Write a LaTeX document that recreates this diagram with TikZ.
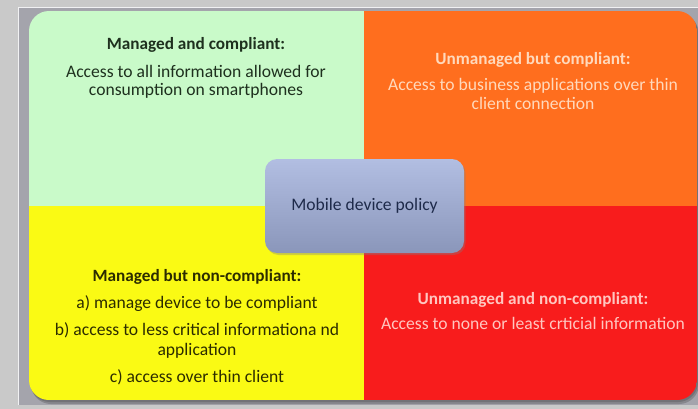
\documentclass[tikz,border=0pt]{standalone}
\usepackage{fontspec}
\setmainfont{Carlito}
\usetikzlibrary{shadows}

\definecolor{bgray}{HTML}{C9C9C9}
\definecolor{panel}{HTML}{A4A4AC}
\definecolor{qgreen}{HTML}{C9FAC9}
\definecolor{qorange}{HTML}{FF6E1E}
\definecolor{qyellow}{HTML}{FAFA14}
\definecolor{qred}{HTML}{F81C1C}
\definecolor{boxtop}{HTML}{B2BEE2}
\definecolor{boxbot}{HTML}{8A96BA}
\definecolor{boxtext}{HTML}{1E2A4A}
\definecolor{gtext}{HTML}{1E301E}
\definecolor{ytext}{HTML}{2C2C00}
\definecolor{otext}{HTML}{FFD9BC}
\definecolor{rtext}{HTML}{FFC6C0}

\tikzset{
  line/.style={inner sep=0pt, anchor=mid, font=\fontsize{17.6}{20}\selectfont},
  head/.style={line, font=\fontsize{17.2}{20}\selectfont\bfseries},
}

\begin{document}
\begin{tikzpicture}[x=1pt,y=-1pt]
  % page and backing panel
  \fill[bgray] (0,0) rectangle (698,409);
  \useasboundingbox (0,0) rectangle (698,409);
  \fill[panel] (18,7) rectangle (698,405);
  \draw[white!85!panel, line width=1.2pt] (18.6,405) -- (18.6,7.6) -- (698,7.6);

  % soft shadow under the quadrant block
  \fill[black, opacity=0.18, rounded corners=20pt] (31,14) rectangle (699,404);
  \fill[black, opacity=0.15, rounded corners=20pt] (30,13) rectangle (698,402);

  % four quadrants, clipped to one rounded block
  \begin{scope}
    \clip[rounded corners=20pt] (29,11) rectangle (697,400);
    \fill[qgreen]  (29,11)  rectangle (364,206);
    \fill[qorange] (364,11) rectangle (697,206);
    \fill[qyellow] (29,206) rectangle (364,400);
    \fill[qred]    (364,206) rectangle (697,400);
  \end{scope}

  % centre policy box
  \node[draw=none, rounded corners=12pt, minimum width=199pt, minimum height=94pt,
        top color=boxtop, bottom color=boxbot, text=boxtext,
        drop shadow={shadow xshift=1.5pt, shadow yshift=-2pt, opacity=0.35},
        font=\fontsize{17.6}{20}\selectfont, inner sep=0pt]
        (policy) at (364.5,206) {Mobile device policy};

  % managed and compliant
  \node[head, text=gtext] (g1) at (196,47) {Managed and compliant:};
  \node[line, text=gtext] (g2) at (196,75) {Access to all information allowed for};
  \node[line, text=gtext] (g3) at (196,93) {consumption on smartphones};

  % unmanaged but compliant
  \node[head, text=otext] (o1) at (533,62) {Unmanaged but compliant:};
  \node[line, text=otext] (o2) at (533,88) {Access to business applications over thin};
  \node[line, text=otext] (o3) at (533,107) {client connection};

  % managed but non-compliant
  \node[head, text=ytext] (y1) at (197,279) {Managed but non-compliant:};
  \node[line, text=ytext] (y2) at (197,306) {a) manage device to be compliant};
  \node[line, text=ytext] (y3) at (197,333) {b) access to less critical informationa nd};
  \node[line, text=ytext] (y4) at (197,353) {application};
  \node[line, text=ytext] (y5) at (197,380) {c) access over thin client};

  % unmanaged and non-compliant
  \node[head, text=rtext] (r1) at (533,302) {Unmanaged and non-compliant:};
  \node[line, text=rtext] (r2) at (533,327) {Access to none or least crticial information};
\end{tikzpicture}
\end{document}
